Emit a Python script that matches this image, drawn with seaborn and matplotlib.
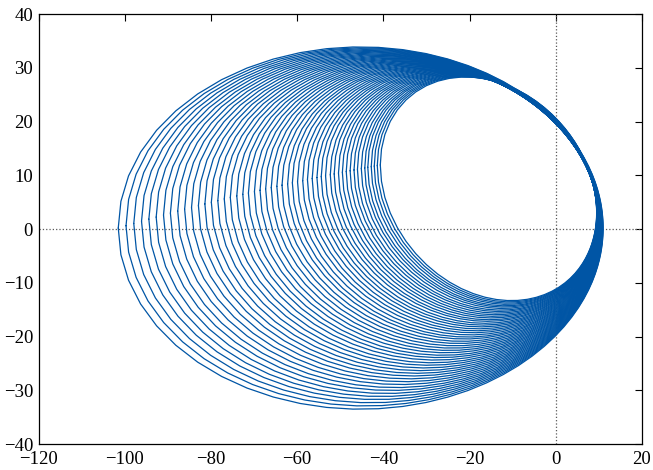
import numpy as np
import pandas as pd
import matplotlib
matplotlib.use("Agg")
import matplotlib.pyplot as plt
import seaborn as sns

# leftmost x reached by each of the closed curves (innermost -> outermost)
left_x = [-40.7, -41.4, -42.1, -42.8, -43.6, -44.3, -45.1, -46.0, -46.8, -47.7,
          -48.6, -49.5, -50.4, -51.4, -52.3, -53.4, -54.4, -55.4, -56.5, -57.6,
          -58.7, -59.9, -61.1, -62.2, -63.5, -64.7, -66.0, -67.3, -68.6, -69.9,
          -71.3, -72.6, -74.0, -75.5, -76.9, -78.4, -79.9, -81.4, -82.9, -84.5,
          -86.1, -87.7, -89.4, -91.0, -92.7, -94.4, -96.1, -97.9, -99.7, -101.5]

# shape of the innermost and outermost curve
inner_curve = {"left": -40.7, "right": 9.5, "cy": 7.5, "by": 20.8, "tilt": -0.213}
outer_curve = {"left": -101.5, "right": 11.0, "cy": 0.2, "by": 33.7, "tilt": 0.0}

x_ticks = [-120, -100, -80, -60, -40, -20, 0, 20]
y_ticks = [-40, -30, -20, -10, 0, 10, 20, 30, 40]

# sampling of each curve (dense on the right, coarse on the left)
u = np.linspace(-1, 1, 85)
t = np.pi * np.sign(u) * u ** 2

rows = []
span = outer_curve["left"] - inner_curve["left"]
for k, lx in enumerate(left_x):
    f = (lx - inner_curve["left"]) / span
    p = {key: inner_curve[key] + f * (outer_curve[key] - inner_curve[key])
         for key in ("right", "cy", "by", "tilt")}
    cx = (lx + p["right"]) / 2
    ax_ = (p["right"] - lx) / 2
    phi = np.arcsin(p["tilt"])
    xs = cx + ax_ * np.cos(t)
    ys = p["cy"] + p["by"] * np.sin(t + phi)
    for i, (xx, yy) in enumerate(zip(xs, ys)):
        rows.append({"curve": k, "order": i, "x": xx, "y": yy})
df = pd.DataFrame(rows)

sns.set_style("white")
plt.rcParams["font.family"] = ["Liberation Serif", "DejaVu Serif"]

fig = plt.figure(figsize=(6.53, 4.70), dpi=100)
ax = fig.add_axes([0.059, 0.055, 0.924, 0.915])

ax.axhline(0, color="0.35", ls=":", lw=0.9, zorder=1)
ax.axvline(0, color="0.35", ls=":", lw=0.9, zorder=1)

sns.lineplot(data=df, x="x", y="y", units="curve", estimator=None, sort=False,
             color="#0055a5", lw=0.9, ax=ax, legend=False, zorder=2)

ax.set_xlim(-120, 20)
ax.set_ylim(-40, 40)
ax.set_xticks(x_ticks)
ax.set_yticks(y_ticks)
ax.set_xlabel("")
ax.set_ylabel("")
for s in ax.spines.values():
    s.set_visible(True)
    s.set_color("black")
    s.set_linewidth(0.9)
ax.tick_params(direction="in", top=True, right=True, length=5, width=0.8,
               labelsize=13.5, colors="black")
ax.tick_params(axis="x", pad=5)
ax.tick_params(axis="y", pad=4)

fig.savefig("out.png", dpi=100)
